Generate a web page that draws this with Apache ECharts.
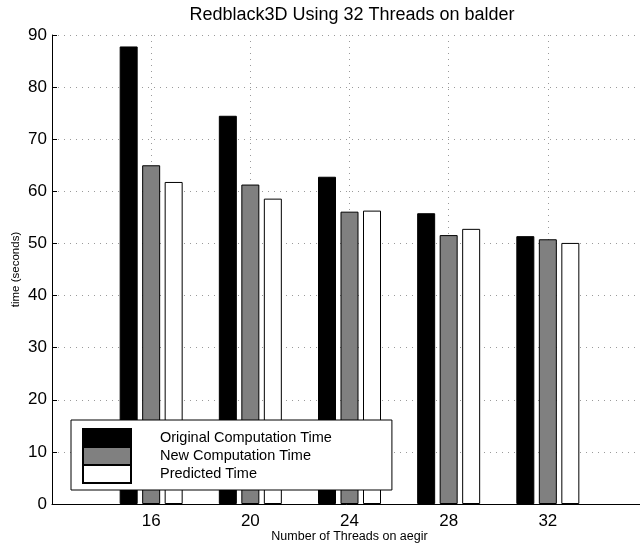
<!DOCTYPE html>
<html>
<head>
<meta charset="utf-8">
<script src="https://cdn.jsdelivr.net/npm/echarts@6/dist/echarts.min.js"></script>
<style>
  html, body { margin: 0; padding: 0; background: #fff; }
  #chart { width: 640px; height: 548px; }
</style>
</head>
<body>
<div id="chart"></div>
<script>
const threads = [16, 20, 24, 28, 32]
const originalTime = [87.8, 74.5, 62.8, 55.8, 51.4]
const newTime = [65.0, 61.3, 56.1, 51.6, 50.8]
const predictedTime = [61.8, 58.6, 56.3, 52.8, 50.1]

const font = 'Liberation Sans, Arial, Helvetica, sans-serif'
const dotted = { color: '#9a9a9a', width: 1, type: [1, 5] }

function barSeries(name, values, color) {
  return {
    name: name,
    type: 'bar',
    barWidth: 18,
    barGap: '25%',
    itemStyle: { color: color, borderColor: '#000', borderWidth: 1 },
    data: threads.map((t, i) => [t, values[i]]),
  }
}

const chart = echarts.init(document.getElementById('chart'))
chart.setOption({
  animation: false,
  title: {
    text: 'Redblack3D Using 32 Threads on balder',
    left: 347,
    textAlign: 'center',
    top: 1,
    textStyle: { fontFamily: font, fontSize: 18, fontWeight: 'normal', color: '#000' },
  },
  grid: { left: 52, right: -7, top: 35, bottom: 44, containLabel: false, outerBoundsMode: 'none' },
  legend: {
    orient: 'vertical',
    left: 71,
    top: 420,
    itemWidth: 48,
    itemHeight: 18,
    itemGap: -2,
    padding: [8, 60, 6, 11],
    backgroundColor: '#fff',
    borderColor: '#000',
    borderWidth: 1,
    borderRadius: 0,
    icon: 'rect',
    textStyle: { fontFamily: font, fontSize: 14.5, lineHeight: 18, color: '#000', padding: [0, 0, 0, 24] },
    data: ['Original Computation Time', 'New Computation Time', 'Predicted Time'],
  },
  xAxis: {
    type: 'value',
    min: 12,
    max: 36,
    interval: 4,
    name: 'Number of Threads on aegir',
    nameLocation: 'middle',
    nameGap: 26,
    nameMoveOverlap: false,
    nameTextStyle: { fontFamily: font, fontSize: 12.5, color: '#000' },
    axisLine: { show: true, lineStyle: { color: '#000', width: 1 } },
    axisTick: { show: true, inside: true, length: 5, lineStyle: { color: '#000' } },
    axisLabel: { fontFamily: font, fontSize: 17, color: '#000', margin: 9, showMinLabel: false, showMaxLabel: false },
    splitLine: { show: true, lineStyle: dotted },
  },
  yAxis: {
    type: 'value',
    min: 0,
    max: 90,
    interval: 10,
    name: 'time (seconds)',
    nameLocation: 'middle',
    nameGap: 30,
    nameMoveOverlap: false,
    nameTextStyle: { fontFamily: font, fontSize: 11.5, color: '#000' },
    axisLine: { show: true, lineStyle: { color: '#000', width: 1 } },
    axisTick: { show: true, inside: true, length: 5, lineStyle: { color: '#000' } },
    axisLabel: { fontFamily: font, fontSize: 17, color: '#000', margin: 5 },
    splitLine: { show: true, lineStyle: dotted },
  },
  series: [
    barSeries('Original Computation Time', originalTime, '#000'),
    barSeries('New Computation Time', newTime, '#808080'),
    barSeries('Predicted Time', predictedTime, '#fff'),
  ],
})
</script>
</body>
</html>
